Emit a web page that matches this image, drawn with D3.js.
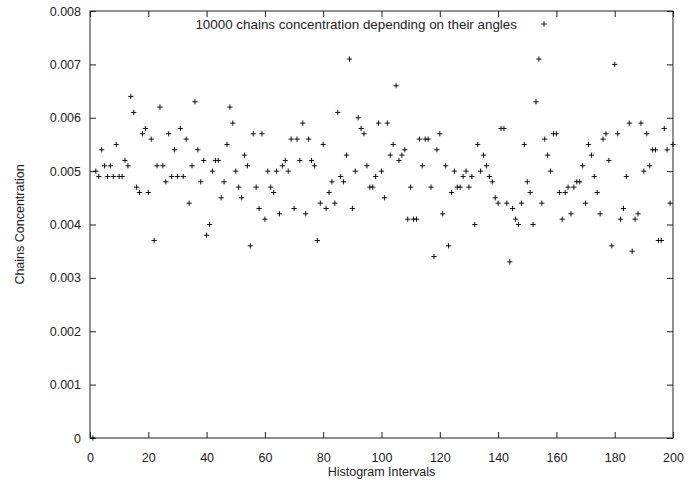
<!DOCTYPE html>
<html>
<head>
<meta charset="utf-8">
<script src="https://cdn.jsdelivr.net/npm/d3@7"></script>
<style>
  body { margin: 0; background: #fff; }
  text { font-family: "Liberation Sans", Arial, Helvetica, sans-serif; fill: #222; }
</style>
</head>
<body>
<div id="chart"></div>
<script>
// histogram intervals start at 1, one concentration value per interval
const firstInterval = 1
const concentration = [
  0.0000, 0.0050, 0.0049, 0.0054, 0.0051, 0.0049, 0.0051, 0.0049, 0.0055, 0.0049,
  0.0049, 0.0052, 0.0051, 0.0064, 0.0061, 0.0047, 0.0046, 0.0057, 0.0058, 0.0046,
  0.0056, 0.0037, 0.0051, 0.0062, 0.0051, 0.0048, 0.0057, 0.0049, 0.0054, 0.0049,
  0.0058, 0.0049, 0.0056, 0.0044, 0.0051, 0.0063, 0.0054, 0.0048, 0.0052, 0.0038,
  0.0040, 0.0050, 0.0052, 0.0052, 0.0045, 0.0048, 0.0055, 0.0062, 0.0059, 0.0050,
  0.0047, 0.0045, 0.0053, 0.0051, 0.0036, 0.0057, 0.0047, 0.0043, 0.0057, 0.0041,
  0.0050, 0.0047, 0.0046, 0.0050, 0.0042, 0.0051, 0.0052, 0.0050, 0.0056, 0.0043,
  0.0056, 0.0052, 0.0059, 0.0042, 0.0056, 0.0052, 0.0051, 0.0037, 0.0044, 0.0055,
  0.0043, 0.0046, 0.0048, 0.0044, 0.0061, 0.0049, 0.0048, 0.0053, 0.0071, 0.0043,
  0.0050, 0.0060, 0.0058, 0.0057, 0.0051, 0.0047, 0.0047, 0.0049, 0.0059, 0.0050,
  0.0045, 0.0059, 0.0053, 0.0055, 0.0066, 0.0052, 0.0053, 0.0054, 0.0041, 0.0047,
  0.0041, 0.0041, 0.0056, 0.0051, 0.0056, 0.0056, 0.0047, 0.0034, 0.0054, 0.0057,
  0.0042, 0.0051, 0.0036, 0.0046, 0.0050, 0.0047, 0.0047, 0.0049, 0.0050, 0.0047,
  0.0049, 0.0040, 0.0055, 0.0050, 0.0053, 0.0051, 0.0049, 0.0048, 0.0045, 0.0044,
  0.0058, 0.0058, 0.0044, 0.0033, 0.0043, 0.0041, 0.0040, 0.0044, 0.0055, 0.0048,
  0.0046, 0.0040, 0.0063, 0.0071, 0.0044, 0.0056, 0.0053, 0.0050, 0.0057, 0.0057,
  0.0046, 0.0041, 0.0046, 0.0047, 0.0042, 0.0047, 0.0048, 0.0048, 0.0051, 0.0044,
  0.0055, 0.0053, 0.0049, 0.0046, 0.0042, 0.0056, 0.0057, 0.0052, 0.0036, 0.0070,
  0.0057, 0.0041, 0.0043, 0.0049, 0.0059, 0.0035, 0.0041, 0.0042, 0.0059, 0.0050,
  0.0057, 0.0051, 0.0054, 0.0054, 0.0037, 0.0037, 0.0058, 0.0054, 0.0044, 0.0055
]
const xTicks = [0, 20, 40, 60, 80, 100, 120, 140, 160, 180, 200]
const yTicks = [0, 0.001, 0.002, 0.003, 0.004, 0.005, 0.006, 0.007, 0.008]
const yTickLabels = ["0", "0.001", "0.002", "0.003", "0.004", "0.005", "0.006", "0.007", "0.008"]
const seriesTitle = "10000 chains concentration depending on their angles"

const margin = {top: 11, right: 16, bottom: 45, left: 90},
    width = 689 - margin.left - margin.right,
    height = 483 - margin.top - margin.bottom;

const svg = d3.select("#chart")
  .append("svg")
    .attr("width", 689)
    .attr("height", 483)
  .append("g")
    .attr("transform", `translate(${margin.left},${margin.top})`);

const x = d3.scaleLinear().domain([0, 200]).range([0, width])
const y = d3.scaleLinear().domain([0, 0.008]).range([height, 0])

const tickLen = 6
const fontSize = "12.5px"

// bottom / top axes, ticks pointing inward like gnuplot
svg.append("g")
  .attr("transform", `translate(0, ${height})`)
  .call(d3.axisBottom(x).tickValues(xTicks).tickSize(-tickLen).tickPadding(tickLen + 9).tickFormat(d3.format("d")))
svg.append("g")
  .call(d3.axisTop(x).tickValues(xTicks).tickSize(-tickLen).tickFormat(""))

svg.append("g")
  .call(d3.axisLeft(y).tickValues(yTicks).tickSize(-tickLen).tickPadding(tickLen + 3)
    .tickFormat((d, i) => yTickLabels[i]))
svg.append("g")
  .attr("transform", `translate(${width}, 0)`)
  .call(d3.axisRight(y).tickValues(yTicks).tickSize(-tickLen).tickFormat(""))

svg.selectAll(".domain").remove()
svg.selectAll(".tick line").attr("stroke", "#222")
svg.selectAll(".tick text").style("font-size", fontSize).attr("fill", "#222")

// frame
svg.append("rect")
  .attr("width", width)
  .attr("height", height)
  .attr("fill", "none")
  .attr("stroke", "#222")
  .attr("stroke-width", 1)

// axis titles
svg.append("text")
  .attr("text-anchor", "middle")
  .attr("x", width / 2)
  .attr("y", height + 38)
  .style("font-size", fontSize)
  .text("Histogram Intervals");
svg.append("text")
  .attr("text-anchor", "middle")
  .attr("transform", `translate(${-66}, ${height / 2}) rotate(-90)`)
  .style("font-size", fontSize)
  .text("Chains Concentration");

// cross marks
const cross = d3.path()
const r = 2.6
cross.moveTo(-r, 0); cross.lineTo(r, 0)
cross.moveTo(0, -r); cross.lineTo(0, r)

svg.append("g")
  .selectAll("path")
  .data(concentration)
  .join("path")
    .attr("transform", (d, i) => `translate(${x(i + firstInterval)},${y(d)})`)
    .attr("d", cross.toString())
    .attr("stroke", "#111")
    .attr("stroke-width", 1)
    .attr("fill", "none")

// key
svg.append("text")
  .attr("text-anchor", "end")
  .attr("x", 427)
  .attr("y", 18)
  .style("font-size", "13.4px")
  .text(seriesTitle);
svg.append("path")
  .attr("transform", `translate(454, 13)`)
  .attr("d", cross.toString())
  .attr("stroke", "#111")
  .attr("stroke-width", 1)
</script>
</body>
</html>
